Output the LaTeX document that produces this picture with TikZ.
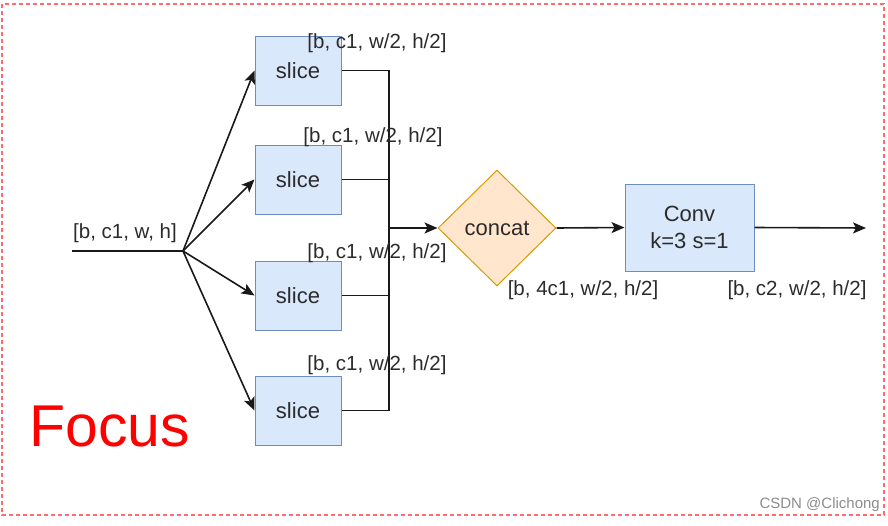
\documentclass[tikz,border=0pt]{standalone}
\usepackage{fontspec}
\setmainfont{Liberation Sans}
\usetikzlibrary{shapes.geometric,arrows.meta}
\definecolor{boxfill}{HTML}{DAE8FC}
\definecolor{boxline}{HTML}{6C8EBF}
\definecolor{dfill}{HTML}{FFE6CC}
\definecolor{dline}{HTML}{D79B00}
\definecolor{txt}{HTML}{2B2B2B}
\definecolor{frame}{HTML}{FF6B6B}
\tikzset{
  slicebox/.style={draw=boxline, fill=boxfill, line width=1pt, minimum width=86pt, minimum height=69pt, inner sep=0pt, text=txt, font=\fontsize{22}{26}\selectfont},
  convbox/.style={draw=boxline, fill=boxfill, line width=1pt, minimum width=129pt, minimum height=87pt, inner sep=0pt, text=txt, align=center, font=\fontsize{22}{27}\selectfont},
  catnode/.style={diamond, aspect=1, draw=dline, fill=dfill, line width=1pt, minimum width=118pt, minimum height=116pt, inner sep=0pt, text=txt, font=\fontsize{22}{26}\selectfont},
  lbl/.style={text=txt, inner sep=0pt, font=\fontsize{20.5}{24}\selectfont},
  wire/.style={line width=1.6pt, draw=black!90},
  arr/.style={wire, -{Stealth[length=13pt, width=11pt, inset=3pt]}}
}
\begin{document}
\begin{tikzpicture}[x=1pt, y=-1pt]
\useasboundingbox (0,0) rectangle (888,525);
\draw[frame, line width=1.2pt, dash pattern=on 4pt off 3pt] (2,4) rectangle (884,515);

\node[slicebox] (s1) at (298,70.5) {slice};
\node[slicebox] (s2) at (298,179.5) {slice};
\node[slicebox] (s3) at (298,295.5) {slice};
\node[slicebox] (s4) at (298,410.5) {slice};

\node[catnode] (cat) at (497,228) {concat};
\node[convbox] (conv) at (689.5,227.5) {Conv\\k=3 s=1};

\coordinate (in) at (72,251);
\coordinate (fork) at (183,251);
\coordinate (j) at (389,228);
\coordinate (out) at (866,228);

\draw[wire] (in) -- (fork);
\foreach \s in {s1,s2,s3,s4} {
  \draw[arr] (fork) -- (\s.west);
  \draw[wire] (\s.east) -| (j);
}
\draw[arr] (j) -- (cat.west);
\draw[arr] (cat.east) -- (conv.west);
\draw[arr] (conv.east) -- (out);

\node[lbl] (lin) at (125,233) {[b, c1, w, h]};
\node[lbl] (l1) at (377,43) {[b, c1, w/2, h/2]};
\node[lbl] (l2) at (373,137) {[b, c1, w/2, h/2]};
\node[lbl] (l3) at (377,253) {[b, c1, w/2, h/2]};
\node[lbl] (l4) at (377,365) {[b, c1, w/2, h/2]};
\node[lbl] (l5) at (583,290) {[b, 4c1, w/2, h/2]};
\node[lbl] (l6) at (797,290) {[b, c2, w/2, h/2]};

\node[text=red, inner sep=0pt, font=\fontsize{59}{64}\selectfont, anchor=west] (focus) at (29,426) {Focus};
\node[text=black!45, inner sep=0pt, font=\fontsize{15}{18}\selectfont, anchor=east] (wm) at (880,505) {CSDN @Clichong};
\end{tikzpicture}
\end{document}
